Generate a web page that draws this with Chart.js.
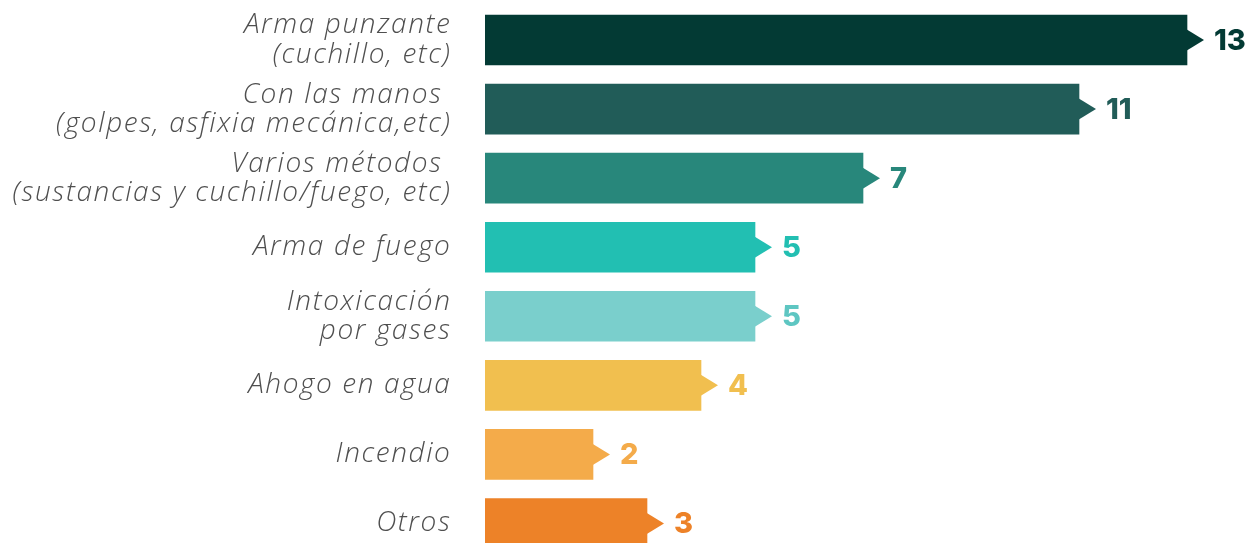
<!DOCTYPE html>
<html>
<head>
<meta charset="utf-8">
<script src="https://cdn.jsdelivr.net/npm/chart.js@4"></script>
<style>
  html, body { margin: 0; padding: 0; background: #fff; overflow: hidden; }
</style>
</head>
<body>
<canvas id="methodChart" width="1247" height="558"></canvas>
<script>
// Categories (multi-line labels as arrays)
const categories = [
    ['Arma punzante', '(cuchillo, etc)'],
    ['Con las manos ', '(golpes, asfixia mecánica,etc)'],
    ['Varios métodos ', '(sustancias y cuchillo/fuego, etc)'],
    'Arma de fuego',
    ['Intoxicación', 'por gases'],
    'Ahogo en agua',
    'Incendio',
    'Otros'
];
const counts = [13, 11, 7, 5, 5, 4, 2, 3];
const barColors = ['#033a34', '#215c58', '#28877b', '#22bfb2', '#7acfcc', '#f1bf4f', '#f4ab4a', '#ed8228'];
const valueColors = ['#033a34', '#215c58', '#28877b', '#22bfb2', '#5ec6c2', '#f1bf4f', '#f4ab4a', '#ed8228'];

// wider label lettering (the original uses a wide geometric font)
const letterSpacing = {
    id: 'letterSpacing',
    beforeDraw(chart) { chart.ctx.letterSpacing = '1.6px'; },
    afterDraw(chart) { chart.ctx.letterSpacing = '0px'; }
};

// Draws the little arrow at the end of each bar plus the value
const arrowLabels = {
    id: 'arrowLabels',
    afterDatasetsDraw(chart) {
        const ctx = chart.ctx;
        const meta = chart.getDatasetMeta(0);
        ctx.save();
        ctx.letterSpacing = '0px';
        meta.data.forEach((bar, i) => {
            const x = bar.x;
            const y = bar.y;
            ctx.fillStyle = barColors[i];
            ctx.beginPath();
            ctx.moveTo(x - 1, y - 11);
            ctx.lineTo(x + 17, y);
            ctx.lineTo(x - 1, y + 11);
            ctx.closePath();
            ctx.fill();

            ctx.fillStyle = valueColors[i];
            ctx.font = '800 29px Inter, "Open Sans", sans-serif';
            ctx.textAlign = 'left';
            ctx.textBaseline = 'middle';
            ctx.fillText(String(counts[i]), x + 27, y + 1);
        });
        ctx.restore();
    }
};

const ctx = document.getElementById('methodChart').getContext('2d');
const methodChart = new Chart(ctx, {
    type: 'bar',
    data: {
        labels: categories,
        datasets: [{
            data: counts,
            backgroundColor: barColors,
            borderWidth: 0,
            barThickness: 50
        }]
    },
    options: {
        indexAxis: 'y',
        responsive: false,
        animation: false,
        layout: { padding: { top: 5.5, bottom: 0, left: 0, right: 0 } },
        plugins: {
            legend: { display: false },
            tooltip: { enabled: false }
        },
        scales: {
            x: {
                display: false,
                min: 0,
                max: 762 / 54
            },
            y: {
                grid: { display: false, drawTicks: false },
                border: { display: false },
                afterFit: (scale) => {
                    scale.width = 485;
                    // labels may hang over the chart area, like the original
                    scale.paddingTop = 0;
                    scale.paddingBottom = 0;
                },
                ticks: {
                    padding: 33.5,
                    color: '#4f4f4f',
                    font: {
                        family: '"Open Sans", sans-serif',
                        style: 'italic',
                        weight: 300,
                        size: 28,
                        lineHeight: 1.04
                    }
                }
            }
        }
    },
    plugins: [letterSpacing, arrowLabels]
});
</script>
</body>
</html>
